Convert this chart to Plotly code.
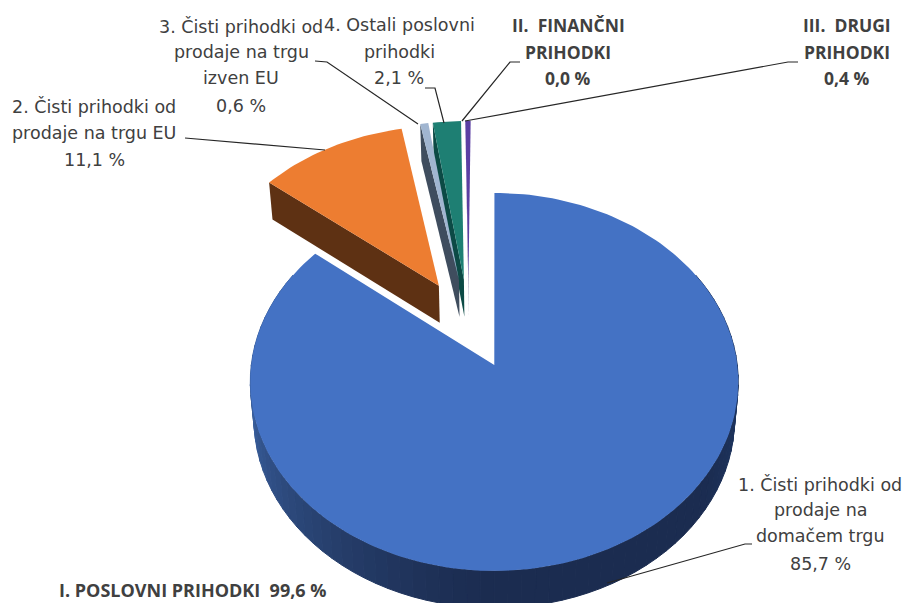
import math
import plotly.graph_objects as go

# ---- data ----
categories = ["1. Čisti prihodki od prodaje na domačem trgu",
              "2. Čisti prihodki od prodaje na trgu EU",
              "3. Čisti prihodki od prodaje na trgu izven EU",
              "4. Ostali poslovni prihodki",
              "II. FINANČNI PRIHODKI",
              "III. DRUGI PRIHODKI"]
values = [85.7, 11.1, 0.6, 2.1, 0.0, 0.4]
top_colors = ["#4472C4", "#ED7D31", "#A0B5D0", "#1E7F73", "#8A8A8A", "#5B3FA3"]
wall_colors = ["#1B2C50", "#5E3113", "#3F4D5E", "#0C4A45", "#555555", "#36265F"]
label_lines = [["1. Čisti prihodki od", "prodaje na", "domačem trgu", "85,7 %"],
               ["2. Čisti prihodki od", "prodaje na trgu EU", "11,1 %"],
               ["3. Čisti prihodki od", "prodaje na trgu", "izven EU", "0,6 %"],
               ["4. Ostali poslovni", "prihodki", "2,1 %"],
               ["II.  FINANČNI", "PRIHODKI", "0,0 %"],
               ["III.  DRUGI", "PRIHODKI", "0,4 %"]]
label_bold = [False, False, False, False, True, True]
group_label = "I. POSLOVNI PRIHODKI  99,6 %"

# ---- layout of the projected pie ----
APEX_X, APEX_Y = 496.0, 365.0
RX, KY, PERSP = 243.0, 187.5, 0.09
EXPLODE, C_X, C_Y = 0.25, -0.115, 0.226
DEPTH, DEPTH_SCALE = 37.0, 0.985
FONT = "DejaVu Sans"
BOLD_FONT = "Open Sans"
FONT_SIZE = 17.5
BOLD_SIZE = 17.5
GROUP_SIZE = 18.0
TEXT_COLOR = "#404040"

label_pos = [(820, [484, 510, 536, 564]),
             (94, [106, 133, 160]),
             (241, [26, 52, 78, 106]),
             (399, [25, 52, 78]),
             (568, [25, 52, 78]),
             (847, [25, 52, 78])]
leaders = [[(607, 583), (745, 544), (752, 544)],
           [(185, 138), (325, 150)],
           [(315, 61), (327, 62), (418, 124)],
           [(425, 88), (435, 88), (444, 123)],
           [(520, 62), (510, 62), (462, 121)],
           [(798, 62), (788, 62), (465, 121)]]


def project(X, Y):
    f = 1.0 / (1.0 + PERSP * Y)
    return APEX_X + X * RX * f, APEX_Y - Y * KY * f


def lower(p):
    return APEX_X + (p[0] - APEX_X) * DEPTH_SCALE, p[1] + DEPTH


def mix(a, b, t):
    ca = [int(a[i:i + 2], 16) for i in (1, 3, 5)]
    cb = [int(b[i:i + 2], 16) for i in (1, 3, 5)]
    return "#" + "".join(f"{round(x + (y - x) * t):02x}" for x, y in zip(ca, cb))


def blue_wall_color(deg):
    # deg measured clockwise from 12 o'clock: 90 = right, 180 = front, 270 = left
    if deg >= 180:
        t = min((deg - 180) / 85.0, 1.0)
        return mix("#1B2C50", "#3A609F", t ** 1.3)
    t = min((180 - deg) / 90.0, 1.0)
    return mix("#1B2C50", "#1D3663", max(0.0, (t - 0.6) / 0.4))


total = sum(values)
angles = []
acc = 0.0
for v in values:
    start = acc
    acc += v / total * 360.0
    angles.append((start, acc))


def slice_center(a0, a1):
    mid = math.radians((a0 + a1) / 2)
    return C_X + EXPLODE * math.sin(mid), C_Y + EXPLODE * math.cos(mid)


def rim(a0, a1, cx, cy):
    n = max(2, int((a1 - a0) / 1.5) + 2)
    out = []
    for i in range(n):
        a = math.radians(a0 + (a1 - a0) * i / (n - 1))
        out.append(project(cx + math.sin(a), cy + math.cos(a)))
    return out


def polygon(points, color, line=0):
    return go.Scatter(x=[p[0] for p in points] + [points[0][0]],
                      y=[p[1] for p in points] + [points[0][1]],
                      mode="lines", fill="toself", fillcolor=color,
                      line=dict(color=color, width=line),
                      hoverinfo="skip", showlegend=False)


fig = go.Figure()

# main slice: strips of outer wall, then its top face
a0, a1 = angles[0]
cx, cy = slice_center(a0, a1)
step = 3.0
deg = 60.0
while deg < 300.0:
    e = min(deg + step, 300.0)
    seg = rim(deg, e, cx, cy)
    fig.add_trace(polygon(seg + [lower(p) for p in reversed(seg)],
                          blue_wall_color((deg + e) / 2), line=1))
    deg = e
fig.add_trace(polygon([project(cx, cy)] + rim(a0, a1, cx, cy), top_colors[0]))

# remaining slices, back to front: cut wall, then top face
for i in [5, 3, 2, 1]:
    a0, a1 = angles[i]
    cx, cy = slice_center(a0, a1)
    apex = project(cx, cy)
    edge = rim(a0, a1, cx, cy)
    corner = edge[0]
    fig.add_trace(polygon([apex, corner, lower(corner), lower(apex)], wall_colors[i]))
    fig.add_trace(polygon([apex] + edge, top_colors[i]))

annotations = []
for lines, (lx, ys), bold in zip(label_lines, label_pos, label_bold):
    for line, ly in zip(lines, ys):
        annotations.append(dict(x=lx, y=ly, xref="x", yref="y", text=f"<b>{line}</b>" if bold else line,
                                showarrow=False, xanchor="center", yanchor="middle",
                                font=dict(family=BOLD_FONT if bold else FONT,
                                          size=BOLD_SIZE if bold else FONT_SIZE, color=TEXT_COLOR)))
annotations.append(dict(x=57, y=590, xref="x", yref="y", text=f"<b>{group_label}</b>",
                        showarrow=False, xanchor="left", yanchor="middle",
                        font=dict(family=BOLD_FONT, size=GROUP_SIZE, color=TEXT_COLOR)))

shapes = []
for pts in leaders:
    path = "M " + " L ".join(f"{x},{y}" for x, y in pts)
    shapes.append(dict(type="path", path=path, xref="x", yref="y",
                       line=dict(color="#262626", width=1.2)))

fig.update_layout(width=907, height=603, autosize=False,
                  margin=dict(l=0, r=0, t=0, b=0),
                  paper_bgcolor="white", plot_bgcolor="white",
                  showlegend=False, annotations=annotations, shapes=shapes,
                  xaxis=dict(range=[0, 907], visible=False, fixedrange=True),
                  yaxis=dict(range=[603, 0], visible=False, fixedrange=True))

fig.write_html("out.html", config={"displayModeBar": False},
               post_script="document.body.style.margin='0';")
